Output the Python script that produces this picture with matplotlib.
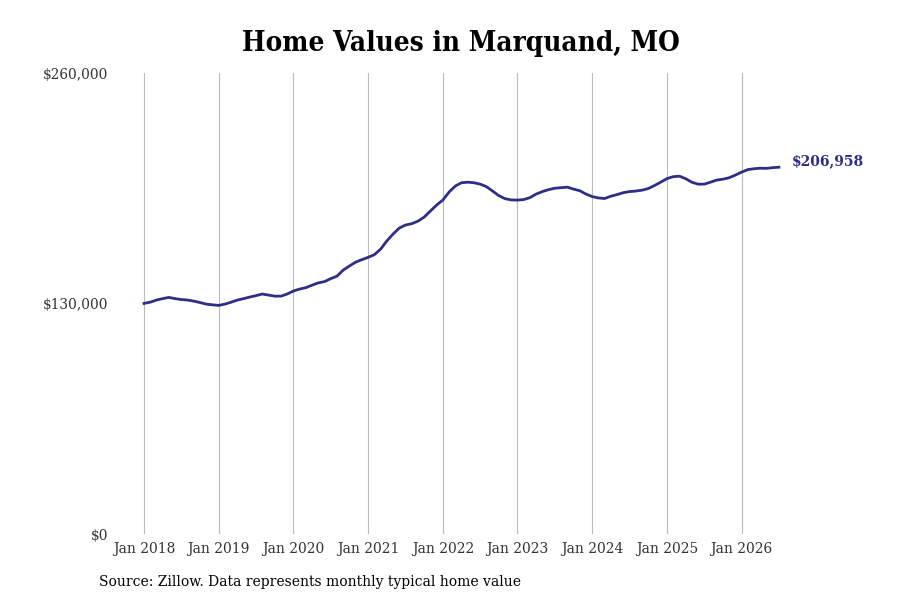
import numpy as np
import matplotlib
matplotlib.use('Agg')
import matplotlib.pyplot as plt

# monthly typical home value, Jan 2018 .. Jul 2026
start_year = 2018
values = [
    130100, 130800, 132000, 132800, 133500, 132800, 132300, 132000, 131400, 130600, 129700, 129300,
    129000, 129700, 130800, 132000, 132800, 133700, 134500, 135400, 134800, 134200, 134200, 135400,
    137100, 138200, 139000, 140400, 141700, 142400, 144100, 145500, 148900, 151200, 153400, 154800,
    156100, 157600, 160700, 165300, 169200, 172600, 174300, 175100, 176500, 178800, 182200, 185600,
    188400, 192900, 196300, 198200, 198500, 198200, 197400, 196000, 193500, 190900, 189200, 188500,
    188400, 188700, 189800, 191800, 193200, 194300, 195100, 195400, 195700, 194600, 193700, 191800,
    190400, 189600, 189300, 190600, 191500, 192600, 193200, 193500, 194000, 194900, 196600, 198500,
    200500, 201600, 201900, 200500, 198500, 197400, 197400, 198500, 199700, 200200, 201000, 202500,
    204200, 205600, 206100, 206400, 206300, 206700, 206958,
]
tick_years = list(range(2018, 2027))
tick_labels = ['Jan %d' % y for y in tick_years]
y_ticks = [0, 130000, 260000]
y_labels = ['$0', '$130,000', '$260,000']
last_label = '$206,958'

navy = '#2e2e86'
x = start_year + np.arange(len(values)) / 12.0

fig = plt.figure(figsize=(9, 6), dpi=100)
ax = fig.add_axes([0.125, 0.11, 0.775, 0.768])
ax.plot(x, values, color=navy, linewidth=2)

ax.set_xlim(2017.578, 2026.916)
ax.set_ylim(0, 260000)
ax.set_xticks(tick_years)
ax.set_xticklabels(tick_labels, family='DejaVu Serif', fontsize=10, color='#333333')
ax.set_yticks(y_ticks)
ax.set_yticklabels(y_labels, family='DejaVu Serif', fontstretch='condensed',
                   fontsize=11, color='#333333')
ax.tick_params(length=0, pad=6)
ax.tick_params(axis='y', pad=3)
ax.grid(axis='x', color='#bbbbbb', linewidth=0.8)
for s in ax.spines.values():
    s.set_visible(False)

ax.annotate(last_label, xy=(x[-1], values[-1]), xytext=(9, 4.5),
            textcoords='offset points', va='center', ha='left',
            color=navy, fontsize=10, fontweight='bold', family='DejaVu Serif')

fig.text(0.512, 0.927, 'Home Values in Marquand, MO', ha='center', va='center',
         fontsize=20, fontweight='bold', family='DejaVu Serif', fontstretch='condensed')
fig.text(0.11, 0.03, 'Source: Zillow. Data represents monthly typical home value',
         ha='left', va='center', fontsize=10, family='DejaVu Serif')

fig.savefig('out.png', dpi=100)
